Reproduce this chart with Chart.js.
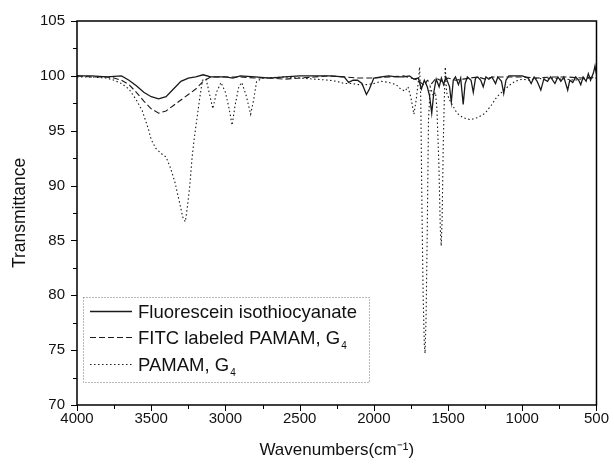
<!DOCTYPE html>
<html>
<head>
<meta charset="utf-8">
<script src="https://cdn.jsdelivr.net/npm/chart.js@4"></script>
<style>
  body { margin: 0; background: #fff; }
  canvas { display: block; }
</style>
</head>
<body>
<canvas id="irChart" width="614" height="467"></canvas>
<script>
// FTIR spectra, values

const fitcWn = [4000, 3900, 3800, 3700, 3650, 3600, 3550, 3500, 3450, 3400, 3350, 3300, 3250, 3200, 3150, 3100, 3000, 2950, 2900, 2800, 2700, 2600, 2500, 2400, 2300, 2200, 2170, 2140, 2110, 2080, 2050, 2030, 2000, 1950, 1900, 1850, 1800, 1760, 1730, 1700, 1680, 1660, 1640, 1625, 1610, 1595, 1580, 1560, 1545, 1530, 1515, 1490, 1478, 1465, 1450, 1430, 1415, 1398, 1385, 1370, 1345, 1330, 1315, 1300, 1280, 1263, 1245, 1225, 1205, 1180, 1165, 1140, 1125, 1110, 1090, 1050, 1000, 960, 940, 920, 900, 875, 855, 830, 810, 780, 760, 740, 720, 694, 680, 660, 640, 620, 606, 590, 570, 555, 540, 520, 510, 500];
const fitcT = [100, 100, 99.9, 100, 99.6, 99.1, 98.5, 98.1, 97.9, 98.1, 98.8, 99.5, 99.8, 99.9, 100.1, 99.9, 99.9, 99.8, 100, 99.9, 99.8, 99.9, 100, 100, 100, 99.9, 99.4, 99.6, 99.6, 99.3, 98.3, 98.8, 99.8, 99.9, 100, 99.9, 99.9, 100, 99.7, 99.8, 98.8, 99.6, 99.0, 98.2, 96.6, 98.6, 99.7, 99.0, 99.8, 99.2, 99.9, 99.0, 97.6, 99.6, 99.9, 99.2, 99.8, 97.4, 99.3, 99.9, 99.6, 98.5, 99.8, 99.9, 99.6, 99.0, 99.9, 99.7, 99.9, 99.3, 99.9, 99.5, 98.4, 99.6, 100, 100, 100, 99.8, 99.3, 99.9, 99.5, 98.7, 99.7, 99.5, 99.9, 99.3, 99.9, 99.5, 99.9, 98.7, 99.6, 99.4, 99.9, 99.6, 99.2, 99.9, 99.5, 100.2, 99.6, 100.3, 100.9, 100.1];

const labWn = [4000, 3900, 3800, 3750, 3700, 3650, 3600, 3550, 3500, 3450, 3400, 3350, 3300, 3250, 3200, 3150, 3100, 3000, 2900, 2800, 2700, 2600, 2500, 2400, 2300, 2200, 2100, 2000, 1900, 1800, 1750, 1700, 1660, 1640, 1610, 1580, 1540, 1500, 1450, 1400, 1350, 1300, 1250, 1200, 1100, 1000, 900, 800, 700, 600, 500];
const labT = [100, 99.9, 99.9, 99.8, 99.6, 99.2, 98.5, 97.7, 97.0, 96.6, 96.8, 97.3, 97.8, 98.3, 98.8, 99.5, 99.9, 99.9, 99.9, 99.8, 99.8, 99.7, 99.8, 99.9, 100, 99.9, 99.8, 99.8, 99.9, 100, 99.8, 99.6, 99.1, 99.6, 99.3, 99.8, 99.5, 99.8, 99.6, 99.7, 99.8, 99.9, 99.7, 99.9, 99.9, 99.9, 99.8, 99.9, 99.9, 99.8, 99.9];

const pamamWn = [4000, 3900, 3800, 3750, 3700, 3650, 3600, 3560, 3520, 3500, 3470, 3430, 3400, 3370, 3340, 3310, 3285, 3270, 3255, 3240, 3225, 3210, 3195, 3175, 3155, 3130, 3110, 3085, 3060, 3030, 3000, 2975, 2955, 2935, 2910, 2890, 2860, 2830, 2810, 2790, 2750, 2600, 2500, 2400, 2300, 2250, 2200, 2150, 2100, 2050, 2000, 1950, 1900, 1850, 1820, 1790, 1770, 1750, 1730, 1715, 1700, 1692, 1684, 1676, 1668, 1660, 1655, 1648, 1640, 1632, 1620, 1600, 1585, 1575, 1562, 1552, 1546, 1540, 1532, 1525, 1519, 1510, 1490, 1465, 1440, 1400, 1350, 1300, 1250, 1210, 1170, 1130, 1090, 1050, 1000, 950, 900, 850, 800, 750, 700, 650, 600, 550, 500];
const pamamT = [99.9, 99.9, 99.8, 99.6, 99.3, 98.8, 97.8, 96.8, 95.2, 94.2, 93.4, 92.9, 92.6, 91.6, 90.3, 88.5, 87.0, 86.7, 88.2, 90.0, 92.5, 94.3, 95.8, 97.8, 99.6, 99.7, 98.5, 97.0, 98.5, 99.4, 98.5, 97.0, 95.5, 97.3, 99.0, 99.4, 98.2, 96.5, 97.8, 99.5, 99.8, 99.9, 99.8, 99.7, 99.6, 99.5, 99.3, 99.3, 99.2, 99.2, 99.3, 99.5, 99.4, 99.2, 98.8, 98.6, 99.0, 98.0, 96.5, 97.8, 99.5, 100.8, 98.0, 88.0, 80.0, 75.5, 74.7, 78.0, 86.0, 96.0, 99.0, 98.2, 98.5, 97.0, 92.0, 86.0, 84.5, 87.0, 94.0, 98.0, 100.8, 98.5, 97.8, 97.2, 96.6, 96.2, 96.0, 96.2, 96.6, 97.3, 98.1, 98.6, 99.1, 99.5, 99.7, 99.6, 99.8, 99.7, 99.8, 99.7, 99.7, 99.6, 99.7, 99.8, 99.8];

const seriesNames = ['Fluorescein isothiocyanate', 'FITC labeled PAMAM, G\u2084', 'PAMAM, G\u2084'];
const xTicks = [4000, 3500, 3000, 2500, 2000, 1500, 1000, 500];
const yTicks = [70, 75, 80, 85, 90, 95, 100, 105];

const FONT = '"Liberation Sans", Arial, sans-serif';

function toPoints(wn, t) {
    return wn.map((w, i) => ({ x: w, y: t[i] }));
}

// minor and major tick marks, outward, plus the closed frame
const frameTicks = {
    id: 'frameTicks',
    afterDraw(chart) {
        const { ctx, chartArea: a, scales: { x, y } } = chart;
        ctx.save();
        ctx.strokeStyle = '#000';
        ctx.lineWidth = 1;
        ctx.beginPath();
        xTicks.forEach((v, i) => {
            const px = Math.round(x.getPixelForValue(v)) + 0.5;
            ctx.moveTo(px, a.bottom); ctx.lineTo(px, a.bottom + 6);
            if (i < xTicks.length - 1) {
                const m = Math.round(x.getPixelForValue((v + xTicks[i + 1]) / 2)) + 0.5;
                ctx.moveTo(m, a.bottom); ctx.lineTo(m, a.bottom + 4);
            }
        });
        yTicks.forEach((v, i) => {
            const py = Math.round(y.getPixelForValue(v)) + 0.5;
            ctx.moveTo(a.left, py); ctx.lineTo(a.left - 6, py);
            if (i < yTicks.length - 1) {
                const m = Math.round(y.getPixelForValue((v + yTicks[i + 1]) / 2)) + 0.5;
                ctx.moveTo(a.left, m); ctx.lineTo(a.left - 4, m);
            }
        });
        ctx.stroke();
        ctx.lineWidth = 1.5;
        ctx.strokeRect(a.left, a.top, a.right - a.left, a.bottom - a.top);
        ctx.restore();
    }
};

// legend box with subscripted "4"
const boxLegend = {
    id: 'boxLegend',
    afterDraw(chart) {
        const ctx = chart.ctx;
        const bx = 83, by = 297, bw = 286, bh = 85;
        const rows = [311, 337, 364];
        ctx.save();
        ctx.fillStyle = '#fff';
        ctx.fillRect(bx, by, bw, bh);
        ctx.strokeStyle = '#777';
        ctx.lineWidth = 1;
        ctx.setLineDash([1, 2]);
        ctx.strokeRect(bx + 0.5, by + 0.5, bw, bh);
        chart.data.datasets.forEach((ds, i) => {
            const yy = rows[i] + 0.5;
            ctx.strokeStyle = ds.borderColor;
            ctx.lineWidth = ds.borderWidth;
            ctx.setLineDash(ds.borderDash || []);
            ctx.beginPath();
            ctx.moveTo(90, yy); ctx.lineTo(132, yy);
            ctx.stroke();
            let text = ds.label;
            let sub = '';
            if (text.endsWith('\u2084')) { text = text.slice(0, -1); sub = '4'; }
            ctx.fillStyle = '#111';
            ctx.font = '18.5px ' + FONT;
            ctx.textBaseline = 'alphabetic';
            ctx.fillText(text, 138, rows[i] + 7);
            if (sub) {
                const w = ctx.measureText(text).width;
                ctx.font = '10px ' + FONT;
                ctx.fillText(sub, 138 + w + 1, rows[i] + 12);
            }
        });
        ctx.restore();
    }
};

const common = { pointRadius: 0, tension: 0, fill: false, borderColor: '#1a1a1a' };

new Chart(document.getElementById('irChart'), {
    type: 'line',
    data: {
        datasets: [
            { ...common, label: seriesNames[0], data: toPoints(fitcWn, fitcT), borderWidth: 1.3 },
            { ...common, label: seriesNames[1], data: toPoints(labWn, labT), borderWidth: 1.1, borderDash: [6, 3] },
            { ...common, label: seriesNames[2], data: toPoints(pamamWn, pamamT), borderWidth: 1.1, borderDash: [1.5, 2.5] }
        ]
    },
    options: {
        responsive: false,
        animation: false,
        devicePixelRatio: 1,
        layout: { padding: { left: 0, top: 20, right: 15, bottom: 0 } },
        plugins: { legend: { display: false }, tooltip: { enabled: false } },
        scales: {
            x: {
                type: 'linear',
                reverse: true,
                min: 500,
                max: 4000,
                afterBuildTicks: (s) => { s.ticks = xTicks.map(v => ({ value: v })); },
                afterFit: (s) => { s.height = 62; },
                grid: { display: false, drawTicks: false },
                border: { display: false },
                ticks: { color: '#111', font: { family: FONT, size: 15 }, padding: 5, maxRotation: 0, autoSkip: false, callback: (v) => String(v) },
                title: { display: true, text: 'Wavenumbers(cm\u207B\u00B9)', color: '#111', font: { family: FONT, size: 17 }, padding: { top: 0, bottom: 6 } }
            },
            y: {
                min: 70,
                max: 105,
                afterBuildTicks: (s) => { s.ticks = yTicks.map(v => ({ value: v })); },
                afterFit: (s) => { s.width = 77; },
                grid: { display: false, drawTicks: false },
                border: { display: false },
                ticks: { color: '#111', font: { family: FONT, size: 15 }, padding: 12, callback: (v) => String(v) },
                title: { display: true, text: 'Transmittance', color: '#111', font: { family: FONT, size: 17.5 }, padding: { top: 10, bottom: 0 } }
            }
        }
    },
    plugins: [frameTicks, boxLegend]
});
</script>
</body>
</html>
